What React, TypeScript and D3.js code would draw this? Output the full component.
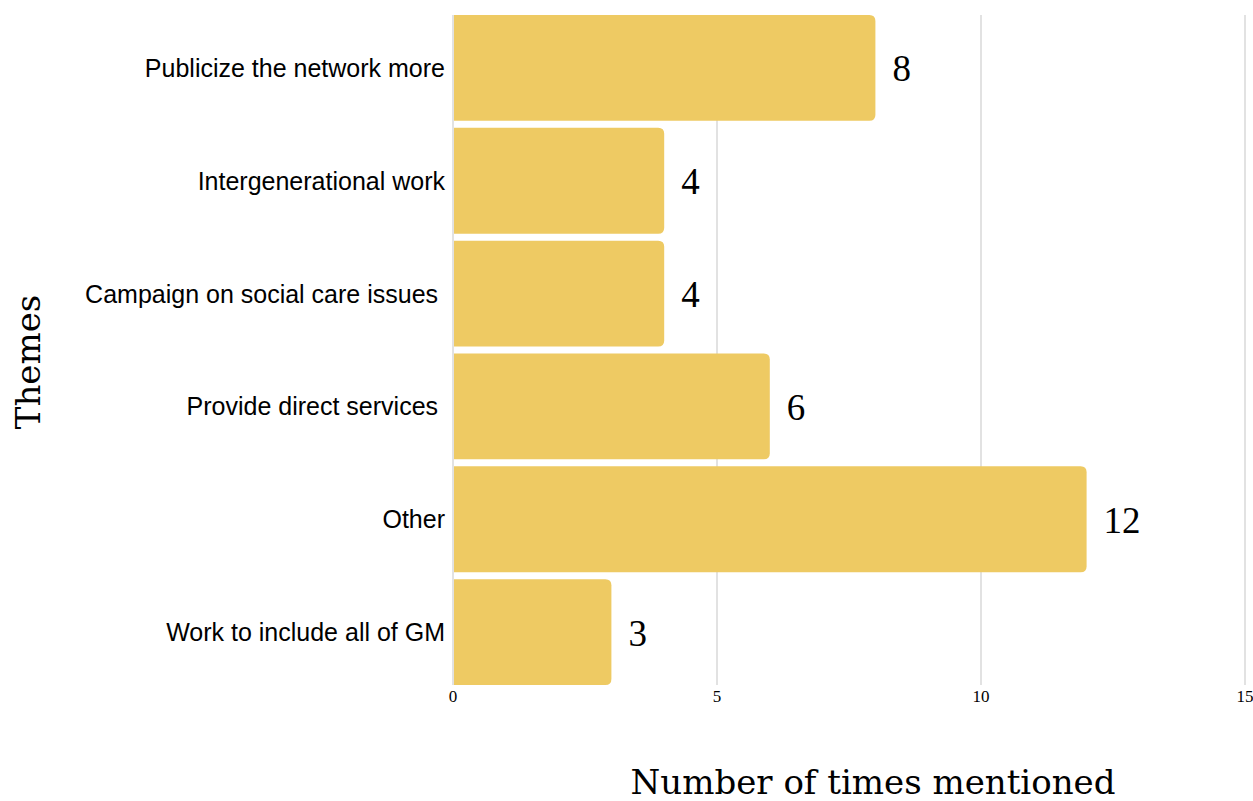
import React from "react";
import * as d3 from "d3";

const categories = [
  "Publicize the network more",
  "Intergenerational work",
  "Campaign on social care issues ",
  "Provide direct services ",
  "Other",
  "Work to include all of GM",
];
const values = [8, 4, 4, 6, 12, 3];
const xTicks = [0, 5, 10, 15];
const xTitle = "Number of times mentioned";
const yTitle = "Themes";

const W = 1253;
const H = 801;

function barPath(x0: number, y0: number, w: number, h: number, r: number) {
  const rr = Math.min(r, w / 2, h / 2);
  return `M${x0},${y0}H${x0 + w - rr}Q${x0 + w},${y0} ${x0 + w},${y0 + rr}V${y0 + h - rr}Q${x0 + w},${y0 + h} ${x0 + w - rr},${y0 + h}H${x0}Z`;
}

export default function App() {
  const x = d3.scaleLinear().domain([0, 15]).range([453, 1245]);
  const y = d3
    .scaleBand<string>()
    .domain(categories)
    .range([15, 685])
    .paddingInner(0.062)
    .paddingOuter(0);
  const serif = "'DejaVu Serif', serif";
  return (
    <svg
      width={W}
      height={H}
      style={{ position: "absolute", left: 0, top: 0, background: "#fff" }}
    >
      {xTicks.map((t) => (
        <line
          key={"g" + t}
          x1={x(t)}
          x2={x(t)}
          y1={15}
          y2={685}
          stroke="#d9d9d9"
          strokeWidth={1.5}
        />
      ))}
      {categories.map((c, i) => {
        const y0 = y(c)!;
        const bw = y.bandwidth();
        return (
          <g key={c}>
            <path
              d={barPath(x(0) + 1, y0, x(values[i]) - x(0) - 1, bw, 6)}
              fill="#EECA63"
            />
            <text
              x={445}
              y={y0 + bw / 2}
              textAnchor="end"
              dominantBaseline="central"
              fontFamily="'Liberation Sans', Arial, sans-serif"
              fontSize={25}
              fill="#000"
              style={{ whiteSpace: "pre" }}
            >
              {c}
            </text>
            <text
              x={x(values[i]) + 17}
              y={y0 + bw / 2 + 1}
              dominantBaseline="central"
              fontFamily="'Liberation Serif', serif"
              fontSize={37}
              fill="#000"
            >
              {values[i]}
            </text>
          </g>
        );
      })}
      {xTicks.map((t) => (
        <text
          key={"t" + t}
          x={x(t)}
          y={696}
          textAnchor="middle"
          dominantBaseline="central"
          fontFamily="'Liberation Serif', serif"
          fontSize={17}
          fill="#000"
        >
          {t}
        </text>
      ))}
      <text
        x={873}
        y={782}
        textAnchor="middle"
        dominantBaseline="central"
        fontFamily={serif}
        fontSize={34}
        fill="#000"
      >
        {xTitle}
      </text>
      <text
        transform={`translate(28,362) rotate(-90)`}
        textAnchor="middle"
        dominantBaseline="central"
        fontFamily={serif}
        fontSize={34}
        fill="#000"
      >
        {yTitle}
      </text>
    </svg>
  );
}
